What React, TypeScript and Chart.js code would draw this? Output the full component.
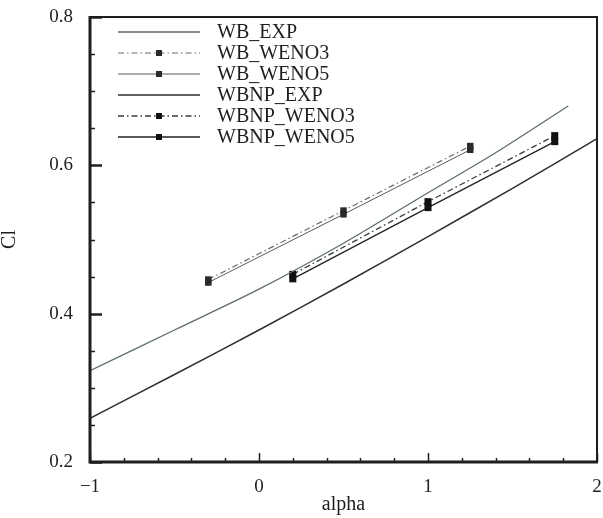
import React, { useEffect, useRef } from 'react';
import { Chart, registerables } from 'chart.js';

Chart.register(...registerables);

// Experimental curves
const wbExpAlpha = [-1, -0.5, 0, 0.5, 1, 1.4, 1.83];
const wbExpCl = [0.323, 0.378, 0.433, 0.495, 0.563, 0.617, 0.68];
const wbnpExpAlpha = [-1, -0.5, 0, 0.5, 1, 1.5, 2];
const wbnpExpCl = [0.259, 0.318, 0.378, 0.44, 0.504, 0.569, 0.636];

// Computed points
const wbAlpha = [-0.3, 0.5, 1.25];
const wbWeno3 = [0.446, 0.539, 0.626];
const wbWeno5 = [0.442, 0.534, 0.621];
const wbnpAlpha = [0.2, 1.0, 1.75];
const wbnpWeno3 = [0.453, 0.551, 0.64];
const wbnpWeno5 = [0.447, 0.543, 0.632];

const xTicks = [-1, 0, 1, 2];
const yTicks = [0.2, 0.4, 0.6, 0.8];

const SERIF = '"Liberation Serif", "Times New Roman", serif';
const INK = '#1e1e1e';

const pts = (xs: number[], ys: number[]) => xs.map((x, i) => ({ x, y: ys[i] }));

const framePlugin = {
  id: 'frameTicksLegend',
  afterDraw(chart: any) {
    const { ctx, chartArea: a, scales } = chart;
    const sx = scales.x;
    const sy = scales.y;
    ctx.save();
    ctx.strokeStyle = INK;
    ctx.setLineDash([]);

    // bottom ticks: minor every 0.2, major every 1
    ctx.lineWidth = 1.5;
    for (let i = 0; i <= 15; i++) {
      const v = -1 + i * 0.2;
      const major = i % 5 === 0;
      const px = Math.round(sx.getPixelForValue(v)) + 0.5;
      ctx.beginPath();
      ctx.moveTo(px, a.bottom);
      ctx.lineTo(px, a.bottom - (major ? 9 : 4));
      ctx.stroke();
    }
    // left ticks: minor every 0.05, major every 0.2
    for (let i = 0; i <= 12; i++) {
      const v = 0.2 + i * 0.05;
      const major = i % 4 === 0;
      const py = Math.round(sy.getPixelForValue(v)) + 0.5;
      ctx.lineWidth = major ? 2.5 : 1.5;
      ctx.beginPath();
      ctx.moveTo(a.left, py);
      ctx.lineTo(a.left + (major ? 12 : 5), py);
      ctx.stroke();
    }

    // frame
    ctx.lineWidth = 2;
    ctx.beginPath();
    ctx.moveTo(a.left, a.top);
    ctx.lineTo(a.right, a.top);
    ctx.lineTo(a.right, a.bottom);
    ctx.stroke();
    ctx.lineWidth = 3;
    ctx.beginPath();
    ctx.moveTo(a.left, a.top - 1);
    ctx.lineTo(a.left, a.bottom);
    ctx.lineTo(a.right + 1, a.bottom);
    ctx.stroke();

    // legend
    const x0 = a.left + 28;
    const x1 = a.left + 110;
    const xm = (x0 + x1) / 2;
    const tx = a.left + 127;
    const rowTop = a.top + 15;
    const rowGap = 21;
    ctx.font = `20px ${SERIF}`;
    ctx.textBaseline = 'middle';
    ctx.textAlign = 'left';
    chart.data.datasets.forEach((ds: any, i: number) => {
      const yy = rowTop + i * rowGap;
      ctx.strokeStyle = ds.borderColor;
      ctx.lineWidth = ds.borderWidth;
      ctx.setLineDash(ds.borderDash || []);
      ctx.beginPath();
      ctx.moveTo(x0, yy);
      ctx.lineTo(x1, yy);
      ctx.stroke();
      ctx.setLineDash([]);
      if (ds.pointRadius > 0) {
        const s = 6;
        ctx.fillStyle = ds.pointBackgroundColor;
        ctx.fillRect(xm - s / 2, yy - s / 2, s, s);
      }
      ctx.fillStyle = INK;
      ctx.fillText(ds.label, tx, yy + 1);
    });
    ctx.restore();
  },
};

export default function App() {
  const canvasRef = useRef<HTMLCanvasElement | null>(null);

  useEffect(() => {
    const canvas = canvasRef.current;
    if (!canvas) return;
    const dashDot = [6, 3, 1.5, 3];
    const chart = new Chart(canvas, {
      type: 'line',
      data: {
        datasets: [
          {
            label: 'WB_EXP',
            data: pts(wbExpAlpha, wbExpCl),
            borderColor: '#5e6e66',
            borderWidth: 1.3,
            pointRadius: 0,
            tension: 0.3,
          },
          {
            label: 'WB_WENO3',
            data: pts(wbAlpha, wbWeno3),
            borderColor: '#6a6a6a',
            borderWidth: 1.2,
            borderDash: dashDot,
            pointStyle: 'rect',
            pointRadius: 4.6,
            pointBackgroundColor: '#2a2a2a',
            pointBorderWidth: 0,
          },
          {
            label: 'WB_WENO5',
            data: pts(wbAlpha, wbWeno5),
            borderColor: '#5a5a5a',
            borderWidth: 1,
            pointStyle: 'rect',
            pointRadius: 4.6,
            pointBackgroundColor: '#2a2a2a',
            pointBorderWidth: 0,
          },
          {
            label: 'WBNP_EXP',
            data: pts(wbnpExpAlpha, wbnpExpCl),
            borderColor: '#2a302d',
            borderWidth: 1.5,
            pointRadius: 0,
            tension: 0.3,
          },
          {
            label: 'WBNP_WENO3',
            data: pts(wbnpAlpha, wbnpWeno3),
            borderColor: '#3a3a3a',
            borderWidth: 1.3,
            borderDash: dashDot,
            pointStyle: 'rect',
            pointRadius: 5,
            pointBackgroundColor: '#111111',
            pointBorderWidth: 0,
          },
          {
            label: 'WBNP_WENO5',
            data: pts(wbnpAlpha, wbnpWeno5),
            borderColor: '#222222',
            borderWidth: 1.3,
            pointStyle: 'rect',
            pointRadius: 5,
            pointBackgroundColor: '#111111',
            pointBorderWidth: 0,
          },
        ],
      },
      options: {
        animation: false,
        responsive: true,
        maintainAspectRatio: false,
        layout: { padding: { top: 17, right: 6, left: 0, bottom: 0 } },
        plugins: { legend: { display: false }, tooltip: { enabled: false } },
        scales: {
          x: {
            type: 'linear',
            min: -1,
            max: 2,
            grid: { display: false, drawTicks: false },
            border: { display: false },
            afterBuildTicks: (s: any) => {
              s.ticks = xTicks.map((v) => ({ value: v }));
            },
            afterFit: (s: any) => {
              s.height = 56;
              s.paddingLeft = 0;
              s.paddingRight = 0;
            },
            ticks: {
              padding: 14,
              color: INK,
              font: { family: SERIF, size: 19 },
              maxRotation: 0,
              callback: (v: any) => (v < 0 ? '\u2212' + Math.abs(v) : String(v)),
            },
            title: {
              display: true,
              text: 'alpha',
              color: INK,
              font: { family: SERIF, size: 20, lineHeight: 1 },
              padding: { top: 0, bottom: 3 },
            },
          },
          y: {
            type: 'linear',
            min: 0.2,
            max: 0.8,
            grid: { display: false, drawTicks: false },
            border: { display: false },
            afterBuildTicks: (s: any) => {
              s.ticks = yTicks.map((v) => ({ value: v }));
            },
            afterFit: (s: any) => {
              s.width = 90;
              s.paddingTop = 0;
              s.paddingBottom = 0;
            },
            ticks: {
              padding: 17,
              color: INK,
              font: { family: SERIF, size: 19 },
              callback: (v: any) => Number(v).toFixed(1),
            },
            title: {
              display: true,
              text: 'Cl',
              color: INK,
              font: { family: SERIF, size: 20, lineHeight: 1 },
              padding: { top: 0, bottom: 0 },
            },
          },
        },
      },
      plugins: [framePlugin],
    } as any);
    return () => chart.destroy();
  }, []);

  return (
    <div style={{ position: 'fixed', left: 0, top: 0, width: 603, height: 518, background: '#fff' }}>
      <canvas ref={canvasRef} />
    </div>
  );
}
